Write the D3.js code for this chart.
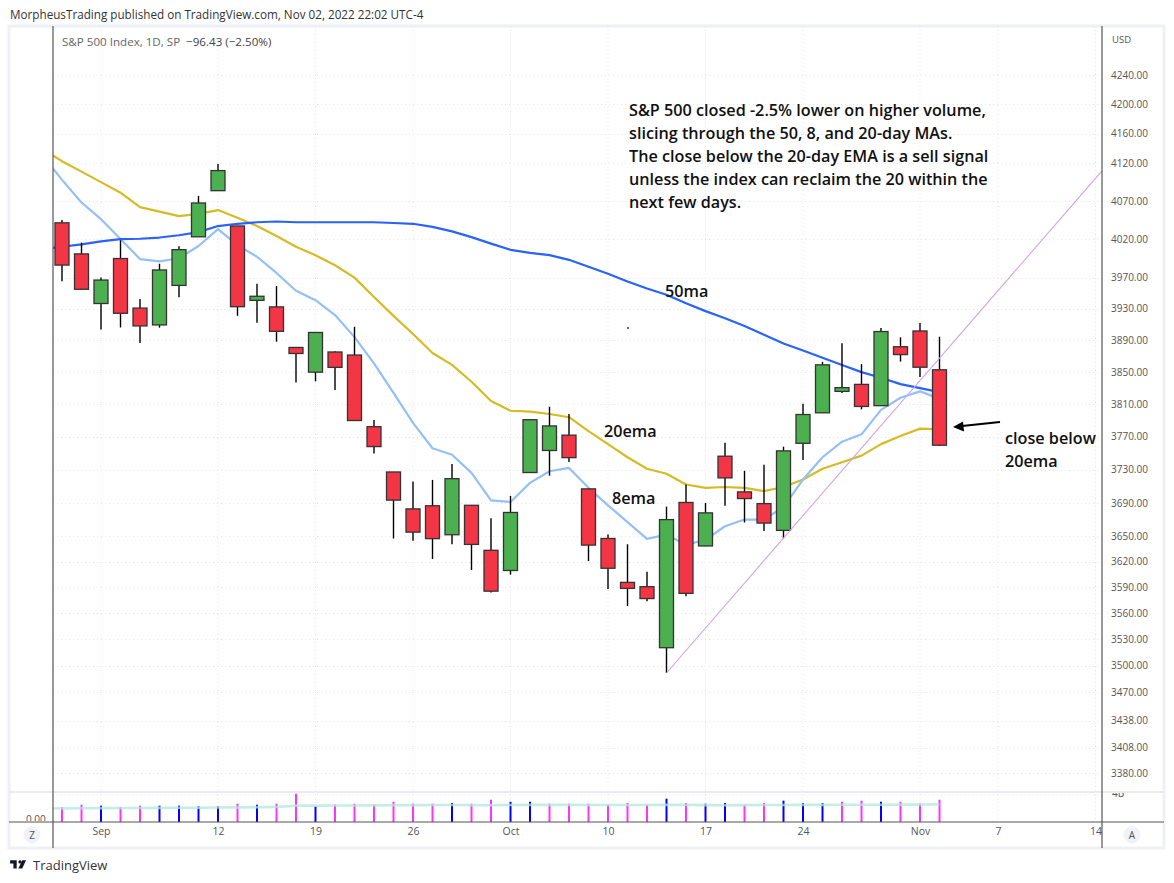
<!DOCTYPE html>
<html><head><meta charset="utf-8">
<script src="https://cdn.jsdelivr.net/npm/d3@7"></script>
<style>
html,body{margin:0;padding:0;background:#fff;}
svg{display:block;}
text{font-family:"Open Sans","Noto Sans",sans-serif;}
</style></head><body>
<svg id="c" width="1174" height="883"></svg>
<script>
const open  = [4041.25,4000.67,3936.73,3994.66,3930.89,3909.43,3959.94,4022.94,4083.67,4037.12,3940.73,3932.41,3880.95,3849.91,3875.23,3871.40,3782.36,3727.14,3682.72,3686.44,3651.94,3687.01,3633.48,3609.78,3726.46,3753.25,3771.97,3706.74,3647.51,3595.86,3590.83,3520.37,3690.41,3638.65,3746.26,3703.11,3689.05,3657.10,3762.01,3799.44,3825.97,3834.69,3808.26,3881.85,3901.79,3852.90];
const high  = [4044.98,4015.37,3970.23,4018.43,3942.55,3987.89,4010.50,4076.81,4119.28,4037.12,3961.94,3959.14,3880.95,3900.45,3876.01,3907.07,3790.68,3727.14,3715.67,3717.53,3736.74,3687.01,3671.44,3698.35,3791.92,3806.91,3797.93,3706.74,3652.17,3640.66,3608.34,3685.41,3712.00,3689.73,3762.79,3728.58,3736.00,3757.89,3810.74,3862.85,3886.15,3859.95,3905.42,3893.73,3911.79,3894.44];
const low   = [3965.21,3954.53,3903.65,3906.21,3886.57,3906.03,3944.81,4022.94,4083.67,3921.07,3912.18,3888.28,3837.08,3838.50,3827.54,3789.49,3749.45,3647.47,3644.76,3623.29,3640.61,3610.40,3584.13,3604.93,3726.46,3722.66,3739.22,3620.73,3588.10,3568.45,3573.86,3491.58,3579.68,3638.65,3686.53,3666.51,3656.44,3647.42,3741.65,3799.44,3824.07,3803.79,3808.26,3863.18,3843.80,3758.68];
const close = [3986.16,3955.00,3966.85,3924.26,3908.19,3979.87,4006.18,4067.36,4110.41,3932.69,3946.01,3901.35,3873.33,3899.89,3855.93,3789.93,3757.99,3693.23,3655.04,3647.29,3719.04,3640.47,3585.62,3678.43,3790.93,3783.28,3744.52,3639.66,3612.39,3588.84,3577.03,3669.91,3583.07,3677.95,3719.98,3695.09,3665.78,3752.75,3797.34,3859.11,3830.60,3807.30,3901.06,3871.98,3856.10,3759.69];
const volumeB = [2.22,2.56,2.42,2.22,2.42,2.42,2.42,2.32,2.32,2.71,2.56,2.71,4.19,2.32,2.56,2.71,2.56,3.0,2.71,2.71,2.81,2.71,3.3,3.0,3.0,2.71,2.71,2.71,2.56,2.81,2.56,3.45,2.81,2.71,2.81,2.56,2.81,3.16,2.81,2.81,3.0,3.16,3.0,3.0,2.71,3.3];
const volumeMA = [2.0,2.02,2.03,2.05,2.07,2.08,2.1,2.11,2.12,2.14,2.16,2.2,2.23,2.42,2.43,2.44,2.45,2.46,2.48,2.5,2.51,2.51,2.5,2.49,2.52,2.53,2.53,2.53,2.52,2.52,2.51,2.52,2.53,2.53,2.5,2.49,2.5,2.51,2.52,2.53,2.54,2.55,2.55,2.56,2.57,2.58,2.62];
// moving averages: first entry is the session just before the visible range
const ema20 = [4139,4123,4109,4095,4081,4062,4056,4050,4053,4058,4048,4037,4024,4010,3999,3986,3970,3945,3921,3898,3874,3859,3838,3814,3802,3801,3798,3794,3777,3761,3745,3731,3725,3712,3708,3709,3708,3704,3709,3718,3731,3739,3747,3761,3771,3780,3779];
const ema8  = [4131,4098,4068,4046,4020,3994,3991,3995,4011,4033,4012,3997,3976,3953,3941,3922,3894,3861,3824,3787,3756,3748,3726,3693,3691,3714,3728,3732,3708,3687,3667,3647,3652,3640,3646,3662,3670,3670,3685,3718,3745,3764,3773,3803,3818,3826,3817];
const sma50 = [4007,4010,4013,4017,4020,4020.4,4022,4025,4029,4037,4040,4042,4043,4042,4042,4042,4042,4042,4041,4040,4036,4030,4022.5,4014,4006,4002,3999,3993,3984,3975,3965,3956,3948,3937,3927,3918,3908,3897,3886,3877,3868,3859,3850,3843,3835,3830,3825];
const trendIdx = [31,53.33];
const trendPrice = [3491.58,4110];
const priceTicks = [4240,4200,4160,4120,4070,4020,3970,3930,3890,3850,3810,3770,3730,3690,3650,3620,3590,3560,3530,3500,3470,3438,3408,3380];
const dateTickIdx = [2,8,13,18,23,28,33,38,44,48,53];
const dateTickLabels = ["Sep","12","19","26","Oct","10","17","24","Nov","7","14"];
const noteLines = ["S&P 500 closed -2.5% lower on higher volume,","slicing through the 50, 8, and 20-day MAs.","The close below the 20-day EMA is a sell signal","unless the index can reclaim the 20 within the","next few days."];

const svg = d3.select("#c");
const L=53,R=1102,T=26,VT=792,B=822,FB=848,OL=9,OR=1164;
const x = d3.scaleLinear().domain([0,45]).range([62,939.5]);
const y = d3.scaleLog().domain([3380,4240]).range([773,75]);
const v = d3.scaleLinear().domain([0,4]).range([B,795]);
const RED="#f23645",GREEN="#4caf50",EDGE="#333",AX="#555";

// frame
svg.append("rect").attr("x",OL).attr("y",T).attr("width",OR-OL).attr("height",FB-T).attr("fill","#fff").attr("stroke","#eef0f6").attr("stroke-width",3);

// grid
const grid = svg.append("g").attr("stroke","#e2e4e8").attr("stroke-dasharray","1 3").attr("stroke-width",1);
grid.selectAll(".h").data(priceTicks).join("line").attr("x1",L).attr("x2",R).attr("y1",d=>Math.round(y(d))+.5).attr("y2",d=>Math.round(y(d))+.5);
grid.selectAll(".v").data(dateTickIdx).join("line").attr("x1",d=>x(d)).attr("x2",d=>x(d)).attr("y1",T).attr("y2",B);
grid.append("line").attr("x1",L).attr("x2",R).attr("y1",v(4)).attr("y2",v(4));

svg.append("clipPath").attr("id","plot").append("rect").attr("x",L).attr("y",T).attr("width",R-L).attr("height",VT-T);
const plot = svg.append("g").attr("clip-path","url(#plot)");

// moving averages sit behind the candles
const maLine = d3.line().x((d,i)=>x(i-1)).y(d=>y(d));
plot.append("path").datum(ema20).attr("d",maLine).attr("fill","none").attr("stroke","#d6bb24").attr("stroke-width",2.2).attr("stroke-linejoin","round");
plot.append("path").datum(ema8).attr("d",maLine).attr("fill","none").attr("stroke","#93c0f7").attr("stroke-width",2.2).attr("stroke-linejoin","round");
plot.append("path").datum(sma50).attr("d",maLine).attr("fill","none").attr("stroke","#2962ff").attr("stroke-width",2.2).attr("stroke-linejoin","round");

// candles
const idx = d3.range(open.length);
const W = 14;
plot.selectAll(".wick").data(idx).join("line").attr("x1",i=>x(i)).attr("x2",i=>x(i))
  .attr("y1",i=>y(high[i])).attr("y2",i=>y(low[i])).attr("stroke","#000").attr("stroke-width",1.4);
plot.selectAll(".body").data(idx).join("rect").attr("x",i=>x(i)-W/2).attr("width",W)
  .attr("y",i=>y(Math.max(open[i],close[i]))).attr("height",i=>Math.abs(y(open[i])-y(close[i])))
  .attr("fill",i=>close[i]>=open[i]?GREEN:RED).attr("stroke",EDGE).attr("stroke-width",1.3);

// trend line
plot.append("line").attr("x1",x(trendIdx[0])).attr("y1",y(trendPrice[0])).attr("x2",x(trendIdx[1])).attr("y2",y(trendPrice[1]))
  .attr("stroke","#d3a5e3").attr("stroke-width",1.1);

// volume pane
svg.selectAll(".vol").data(idx).join("rect").attr("x",i=>x(i)-1).attr("width",2)
  .attr("y",i=>v(volumeB[i])).attr("height",i=>B-v(volumeB[i]))
  .attr("fill",i=>i>0&&close[i]>close[i-1]?"#0000ff":"#ff33ff");
svg.append("clipPath").attr("id","volclip").append("rect").attr("x",L).attr("y",VT).attr("width",R-L).attr("height",B-VT);
svg.append("path").datum(volumeMA).attr("d",d3.line().x((d,i)=>x(i-1)).y(d=>v(d))).attr("fill","none")
  .attr("stroke","#b2e6dc").attr("stroke-width",2.6).attr("stroke-opacity",.75)
  .attr("clip-path","url(#volclip)");

// frame lines
svg.append("line").attr("x1",OL).attr("x2",OR).attr("y1",VT).attr("y2",VT).attr("stroke","#e4e6ee").attr("stroke-width",1.4);

// axes
const yAxis = d3.axisRight(y).tickValues(priceTicks).tickFormat(d3.format(".2f")).tickSize(0).tickPadding(9);
const gy = svg.append("g").attr("transform",`translate(${R},0)`).call(yAxis);
gy.select(".domain").remove();
gy.selectAll("text").attr("font-size",10).attr("fill","#555").style("font-family","'Open Sans',sans-serif");
const xAxis = d3.axisBottom(x).tickValues(dateTickIdx).tickFormat((d,i)=>dateTickLabels[i]).tickSize(0).tickPadding(6);
const gx = svg.append("g").attr("transform",`translate(0,${B})`).call(xAxis);
gx.select(".domain").remove();
gx.selectAll("text").attr("font-size",10.5).attr("fill","#555");

svg.append("text").attr("x",1112).attr("y",43).attr("font-size",9.5).attr("fill","#555").text("USD");
svg.append("clipPath").attr("id","labclip").append("rect").attr("x",OL).attr("y",VT+1).attr("width",OR-OL).attr("height",B-VT-2);
const paneLabels = svg.append("g").attr("clip-path","url(#labclip)").attr("font-size",10).attr("fill","#555");
paneLabels.append("text").attr("x",1112).attr("y",797).text("4B");
paneLabels.append("text").attr("x",26).attr("y",823).text("0.00");

svg.append("line").attr("x1",OL).attr("x2",OR).attr("y1",B).attr("y2",B).attr("stroke",AX).attr("stroke-width",1.2);
svg.append("line").attr("x1",L).attr("x2",L).attr("y1",T).attr("y2",FB).attr("stroke",AX).attr("stroke-width",1.2);
svg.append("line").attr("x1",R).attr("x2",R).attr("y1",T).attr("y2",FB).attr("stroke",AX).attr("stroke-width",1.2);

// header & legend
svg.append("text").attr("x",10).attr("y",19).attr("font-size",11.7).attr("fill","#333").text("MorpheusTrading published on TradingView.com, Nov 02, 2022 22:02 UTC-4");
const lg = svg.append("text").attr("x",62).attr("y",46).attr("font-size",11.6).attr("fill","#666");
lg.append("tspan").text("S&P 500 Index, 1D, SP");
lg.append("tspan").attr("dx",6).attr("fill","#444").text("−96.43 (−2.50%)");

// round buttons
[[32,"Z"],[1132,"A"]].forEach(([cx,t])=>{
  svg.append("circle").attr("cx",cx).attr("cy",835).attr("r",8.5).attr("fill","#f0f2f7");
  svg.append("text").attr("x",cx).attr("y",839).attr("text-anchor","middle").attr("font-size",10).attr("fill","#555").text(t);
});

// annotations
const note = svg.append("g").attr("font-size",16.2).attr("font-weight",600).attr("fill","#111");
noteLines.forEach((t,i)=>note.append("text").attr("x",629).attr("y",116+23*i).text(t));
[["50ma",665,297],["20ema",604,437],["8ema",612,504],["close below",1005,444],["20ema",1005,467]].forEach(([t,a,b])=>
  note.append("text").attr("x",a).attr("y",b).text(t));
svg.append("circle").attr("cx",628).attr("cy",328).attr("r",1).attr("fill","#333");
svg.append("line").attr("x1",1000).attr("y1",422).attr("x2",962).attr("y2",426).attr("stroke","#000").attr("stroke-width",2);
svg.append("path").attr("d",d3.line()([[953,427],[963,421.5],[964,431.5]])).attr("fill","#000");

// brand
const logo = svg.append("g").attr("fill","#131722").attr("transform","translate(9,857) scale(.55)");
logo.append("path").attr("d","M14 6H2v6h6v9h6V6z");
logo.append("circle").attr("cx",20).attr("cy",9).attr("r",3);
logo.append("path").attr("d","M24 21h-7l7-15h7l-7 15z");
svg.append("text").attr("x",33).attr("y",870).attr("font-size",13).attr("fill","#333").text("TradingView");
</script>
</body></html>
